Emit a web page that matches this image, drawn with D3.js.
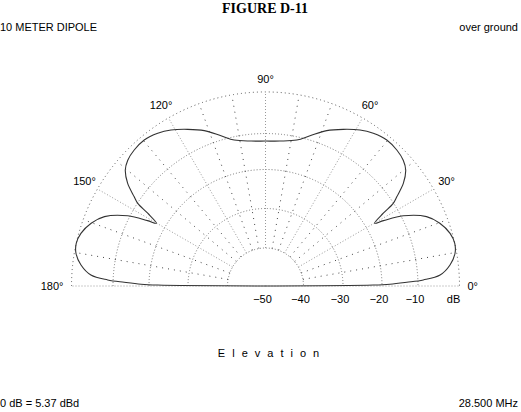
<!DOCTYPE html>
<html>
<head>
<meta charset="utf-8">
<script src="https://cdn.jsdelivr.net/npm/d3@7"></script>
<style>
  html, body { margin: 0; padding: 0; background: #fff; }
  svg { display: block; }
  text { font-family: "Liberation Sans", "DejaVu Sans", sans-serif; fill: #000; }
</style>
</head>
<body>
<svg id="chart" width="521" height="412"></svg>
<script>
// ---- data ----
const title = "FIGURE D-11";
const subtitleLeft = "10 METER DIPOLE";
const subtitleRight = "over ground";
const axisTitle = "Elevation";
const footLeft = "0 dB = 5.37 dBd";
const footRight = "28.500 MHz";

const elevationAngles = [0, 0.5, 0.8, 1.5, 2.2, 3.6, 6.5, 9.8, 12.7, 15.9, 19.8, 23.3, 27.0, 29.0, 29.9,
  31.7, 32.9, 34.2, 36.7, 39.6, 42.4, 46.0, 50.3, 54.8, 58.8, 63.6, 68.5, 73.5, 77.9, 84.3, 90,
  95.7, 102.1, 106.5, 111.5, 116.4, 121.2, 125.2, 129.7, 134.0, 137.6, 140.4, 143.3, 145.8, 147.1, 148.3,
  150.1, 151.0, 153.0, 156.7, 160.2, 164.1, 167.3, 170.2, 173.5, 176.4, 177.8, 178.5, 179.2, 179.5, 180];
const gainDb = [-50, -22.2, -17.8, -13.1, -8.7, -4.6, -2.0, -0.4, 0, -0.5, -2.1, -4.5, -9.5, -14.9, -17.4,
  -13.9, -10.1, -8.5, -5.3, -2.9, -1.8, -1.2, -1.0, -1.7, -2.8, -4.6, -6.5, -9.0, -10.9, -11.9, -12.1,
  -11.9, -10.9, -9.0, -6.5, -4.6, -2.8, -1.7, -1.0, -1.2, -1.8, -2.9, -5.3, -8.5, -10.1, -13.9,
  -17.4, -14.9, -9.5, -4.5, -2.1, -0.5, 0, -0.4, -2.0, -4.6, -8.7, -13.1, -17.8, -22.2, -50];

const ringDb = [-40, -30, -20, -10, 0];
const dbTickLabels = ["-50", "-40", "-30", "-20", "-10", "dB"];
const dbTickValues = [-50, -40, -30, -20, -10, 0];
const angleTickValues = [0, 30, 60, 90, 120, 150, 180];
const spokeAngles = d3.range(0, 181, 10);

// ---- layout ----
const cx = 265.5, cy = 286;
const svg = d3.select("#chart");

const r = d3.scaleLinear()
  .domain([-50, -40, -30, -20, -10, 0])
  .range([0, 38, 77.5, 116.5, 152.5, 194])
  .clamp(true);
const toRad = d => d * Math.PI / 180;

const g = svg.append("g").attr("transform", `translate(${cx},${cy})`);

// rings
g.selectAll("path.ring").data(ringDb).join("path")
  .attr("class", "ring")
  .attr("d", d => { const p = d3.path(); p.moveTo(-r(d), 0); p.arc(0, 0, r(d), Math.PI, 2 * Math.PI); return p.toString(); })
  .attr("fill", "none")
  .attr("stroke", d => d === 0 ? "#555" : "#777")
  .attr("stroke-width", 1)
  .attr("stroke-dasharray", d => d === 0 ? "1,3" : "1,2");

// spokes
g.selectAll("line.spoke").data(spokeAngles).join("line")
  .attr("class", "spoke")
  .attr("x1", a => (a % 180 === 0 ? 0 : r(-40)) * Math.cos(toRad(a)))
  .attr("y1", a => -(a % 180 === 0 ? 0 : r(-40)) * Math.sin(toRad(a)))
  .attr("x2", a => r(0) * Math.cos(toRad(a)))
  .attr("y2", a => -r(0) * Math.sin(toRad(a)))
  .attr("stroke", a => a % 30 === 0 ? "#999" : "#444")
  .attr("stroke-width", 1)
  .attr("stroke-dasharray", a => a % 30 === 0 ? "1,2" : "1,5");

// pattern
const pts = elevationAngles.map((a, i) => ({ a, db: gainDb[i] }));
const line = d3.lineRadial()
  .angle(d => toRad(90 - d.a))
  .radius(d => r(d.db))
  .curve(d3.curveCatmullRom.alpha(0.5));
g.append("path").datum(pts)
  .attr("d", line)
  .attr("fill", "none")
  .attr("stroke", "#333")
  .attr("stroke-width", 1.1);

// angle labels
const labR = 209;
g.selectAll("text.ang").data(angleTickValues).join("text")
  .attr("class", "ang")
  .attr("x", a => a === 0 ? labR - 7 : a === 180 ? -labR + 7 : labR * Math.cos(toRad(a)))
  .attr("y", a => -labR * Math.sin(toRad(a)) + (a === 90 ? 2 : 0))
  .attr("dy", "0.35em")
  .attr("text-anchor", a => a === 0 ? "start" : a === 180 ? "end" : "middle")
  .attr("font-size", 11)
  .text(a => a + "°");

// dB labels
g.selectAll("text.db").data(dbTickValues).join("text")
  .attr("class", "db")
  .attr("x", d => r(d) - (d === 0 ? 6 : 3))
  .attr("y", 13)
  .attr("dy", "0.35em")
  .attr("text-anchor", "middle")
  .attr("font-size", 11)
  .text((d, i) => dbTickLabels[i].replace("-", "\u2212"));

// titles
svg.append("text").attr("x", 265).attr("y", 13)
  .attr("text-anchor", "middle")
  .style("font-family", "'Liberation Serif', 'DejaVu Serif', serif")
  .attr("font-weight", "bold").attr("font-size", 14)
  .text(title);
svg.append("text").attr("x", 0).attr("y", 31).attr("font-size", 11)
  .attr("textLength", 97).attr("lengthAdjust", "spacingAndGlyphs").text(subtitleLeft);
svg.append("text").attr("x", 518).attr("y", 31).attr("font-size", 11)
  .attr("text-anchor", "end").text(subtitleRight);
svg.append("text").attr("x", 272).attr("y", 357).attr("font-size", 11)
  .attr("text-anchor", "middle").attr("letter-spacing", 7).text(axisTitle);
svg.append("text").attr("x", 0).attr("y", 407).attr("font-size", 11).text(footLeft);
svg.append("text").attr("x", 518).attr("y", 407).attr("font-size", 11)
  .attr("text-anchor", "end").text(footRight);
</script>
</body>
</html>
